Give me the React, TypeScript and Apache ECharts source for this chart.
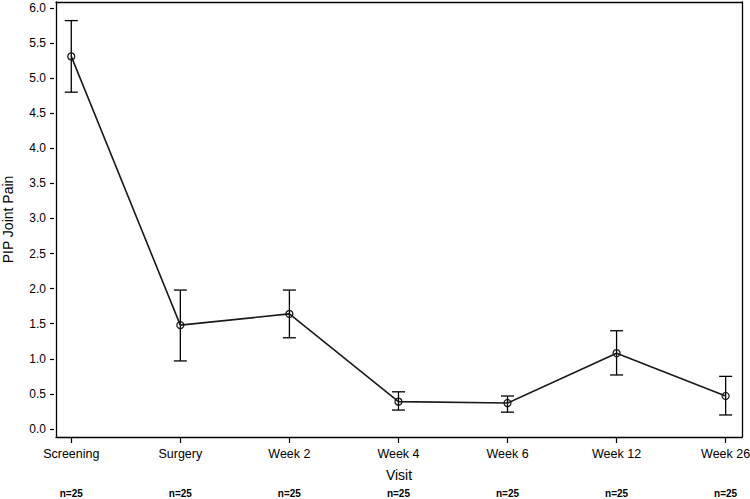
import React, { useEffect, useRef } from "react";
import * as echarts from "echarts";

const categories = ["Screening", "Surgery", "Week 2", "Week 4", "Week 6", "Week 12", "Week 26"];
const means = [5.31, 1.48, 1.64, 0.39, 0.37, 1.08, 0.47];
const upper = [5.82, 1.98, 1.98, 0.53, 0.47, 1.4, 0.75];
const lower = [4.8, 0.97, 1.3, 0.27, 0.24, 0.77, 0.2];
const counts = ["n=25", "n=25", "n=25", "n=25", "n=25", "n=25", "n=25"];
const yTicks = [0, 0.5, 1, 1.5, 2, 2.5, 3, 3.5, 4, 4.5, 5, 5.5, 6];

const FONT = "Liberation Sans, Arial, sans-serif";
const X_MIN = -0.14;
const X_MAX = 6.15;
const Y_MIN = -0.114;
const Y_MAX = 6.085;

export default function App() {
  const ref = useRef<HTMLDivElement>(null);
  useEffect(() => {
    if (!ref.current) return;
    const chart = echarts.init(ref.current, undefined, { renderer: "svg" });
    const idx = categories.map((_, i) => i);
    const frameLine = { show: true, onZero: false, lineStyle: { color: "#000", width: 1.3 } };
    const noLine = { show: false, onZero: false };
    const hidden = {
      splitLine: { show: false },
      axisTick: { show: false },
      axisLabel: { show: false },
    };
    chart.setOption({
      animation: false,
      backgroundColor: "#fff",
      textStyle: { fontFamily: FONT },
      grid: {
        left: 56,
        right: 8,
        top: 2,
        bottom: 62,
        containLabel: false,
        outerBoundsMode: "none",
      },
      xAxis: [
        {
          type: "value",
          min: X_MIN,
          max: X_MAX,
          position: "bottom",
          splitLine: { show: false },
          axisLine: frameLine,
          axisTick: { show: true, customValues: idx, length: 6, lineStyle: { color: "#000", width: 1.2 } },
          axisLabel: {
            customValues: idx,
            formatter: (v: number) => categories[Math.round(v)] ?? "",
            color: "#000",
            fontSize: 12.5,
            margin: 10,
            fontFamily: FONT,
          },
          name: "Visit",
          nameLocation: "middle",
          nameGap: 31,
          nameTextStyle: { fontSize: 14, color: "#000", fontFamily: FONT },
        },
        {
          type: "value",
          min: X_MIN,
          max: X_MAX,
          position: "bottom",
          offset: 50,
          splitLine: { show: false },
          axisLine: noLine,
          axisTick: { show: false },
          axisLabel: {
            customValues: idx,
            formatter: (v: number) => counts[Math.round(v)] ?? "",
            color: "#000",
            fontSize: 10,
            fontWeight: "bold",
            margin: 1,
            fontFamily: FONT,
          },
        },
        {
          type: "value",
          min: X_MIN,
          max: X_MAX,
          position: "top",
          axisLine: frameLine,
          ...hidden,
        },
      ],
      yAxis: [
        {
          type: "value",
          min: Y_MIN,
          max: Y_MAX,
          position: "left",
          offset: 2,
          splitLine: { show: false },
          axisLine: noLine,
          axisTick: { show: true, customValues: yTicks, length: 4, lineStyle: { color: "#000", width: 1.2 } },
          axisLabel: {
            customValues: yTicks,
            formatter: (v: number) => v.toFixed(1),
            color: "#000",
            fontSize: 12,
            margin: 8,
            fontFamily: FONT,
          },
          name: "PIP Joint Pain",
          nameLocation: "middle",
          nameGap: 39,
          nameTextStyle: { fontSize: 14, color: "#000", fontFamily: FONT },
        },
        {
          type: "value",
          min: Y_MIN,
          max: Y_MAX,
          position: "left",
          offset: 0,
          axisLine: frameLine,
          ...hidden,
        },
        {
          type: "value",
          min: Y_MIN,
          max: Y_MAX,
          position: "right",
          axisLine: frameLine,
          ...hidden,
        },
      ],
      series: [
        {
          type: "custom",
          xAxisIndex: 0,
          yAxisIndex: 0,
          data: idx.map((i) => [i, lower[i], upper[i]]),
          renderItem: (params: any, api: any) => {
            const x = api.value(0);
            const lo = api.coord([x, api.value(1)]);
            const hi = api.coord([x, api.value(2)]);
            const w = 6.5;
            const style = { stroke: "#000", lineWidth: 1.3 };
            return {
              type: "group",
              children: [
                { type: "line", shape: { x1: lo[0], y1: lo[1], x2: hi[0], y2: hi[1] }, style },
                { type: "line", shape: { x1: hi[0] - w, y1: hi[1], x2: hi[0] + w, y2: hi[1] }, style },
                { type: "line", shape: { x1: lo[0] - w, y1: lo[1], x2: lo[0] + w, y2: lo[1] }, style },
              ],
            };
          },
          z: 1,
        },
        {
          type: "line",
          xAxisIndex: 0,
          yAxisIndex: 0,
          data: idx.map((i) => [i, means[i]]),
          symbol: "circle",
          symbolSize: 7,
          showSymbol: true,
          lineStyle: { color: "#1a1a1a", width: 1.6 },
          itemStyle: { color: "transparent", borderColor: "#1a1a1a", borderWidth: 1.3 },
          z: 3,
        },
      ],
    });
    return () => chart.dispose();
  }, []);
  return <div ref={ref} style={{ position: "absolute", left: 0, top: 0, width: 750, height: 499 }} />;
}
